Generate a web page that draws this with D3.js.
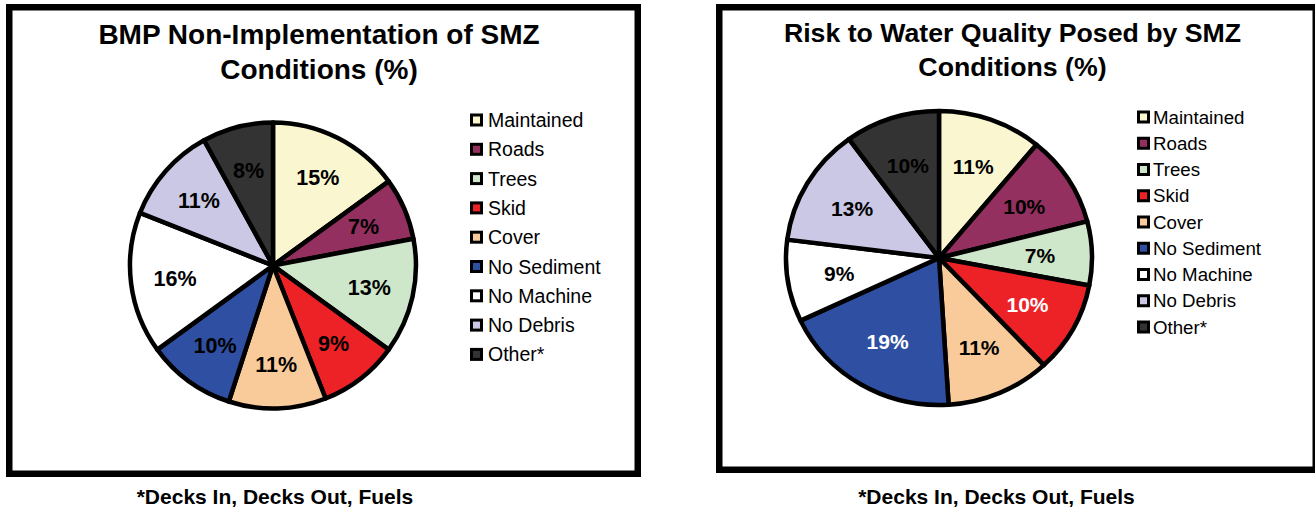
<!DOCTYPE html>
<html>
<head>
    <meta charset="utf-8">
    <title>SMZ Conditions</title>
    <style type="text/css">
        body { margin: 0; background: #fff; }
        svg text { font-family: "Liberation Sans", Arial, sans-serif; }
    </style>
</head>
<body>
<div id="chart"></div>
<script src="https://cdn.jsdelivr.net/npm/d3@7"></script>
<script type="text/javascript">
    // categories, in the order drawn (clockwise from 12 o'clock)
    var categories = ["Maintained", "Roads", "Trees", "Skid", "Cover",
        "No Sediment", "No Machine", "No Debris", "Other*"];
    var colors = ["#FAF7D0", "#93305F", "#CEE6C9", "#EC2227", "#F9CB9B",
        "#2F4FA2", "#FFFFFF", "#CAC8E4", "#333333"];

    // left chart values (%)
    var nonImplValues = [15, 7, 13, 9, 11, 10, 16, 11, 8];
    // right chart values (%)
    var riskValues = [11, 10, 7, 10, 11, 19, 9, 13, 10];

    var titlesLeft = ["BMP Non-Implementation of SMZ", "Conditions (%)"];
    var titlesRight = ["Risk to Water Quality Posed by SMZ", "Conditions (%)"];
    var footnote = "*Decks In, Decks Out, Fuels";

    var svg = d3.select('#chart')
        .append('svg')
        .attr('width', 1315)
        .attr('height', 507);

    var color = d3.scaleOrdinal().domain(categories).range(colors);

    function drawPanel(opt) {
        var g = svg.append('g');

        //外框
        g.append('rect')
            .attr('x', opt.frame[0]).attr('y', opt.frame[1])
            .attr('width', opt.frame[2]).attr('height', opt.frame[3])
            .attr('fill', '#fff')
            .attr('stroke', '#000')
            .attr('stroke-width', 6.5);

        //标题
        g.selectAll('.title')
            .data(opt.titles)
            .enter()
            .append('text')
            .attr('class', 'title')
            .attr('x', opt.titleX)
            .attr('y', function (d, i) { return opt.titleY + i * opt.titleGap; })
            .attr('text-anchor', 'middle')
            .attr('font-weight', 'bold')
            .attr('font-size', opt.titleSize)
            .text(function (d) { return d; });

        var rows = categories.map(function (c, i) {
            return {name: c, value: opt.values[i]};
        });

        // pie drawn on a unit radius, then stretched to rx/ry
        var pie = d3.pie().sort(null).value(function (d) { return d.value; });
        var arc = d3.arc().innerRadius(0).outerRadius(1);
        var labelArc = d3.arc().innerRadius(opt.labelK).outerRadius(opt.labelK);

        var pg = g.append('g')
            .attr('transform', 'translate(' + opt.cx + ',' + opt.cy + ')');

        pg.append('g')
            .attr('transform', 'scale(' + opt.rx + ',' + opt.ry + ')')
            .selectAll('path')
            .data(pie(rows))
            .enter()
            .append('path')
            .attr('d', arc)
            .attr('fill', function (d) { return color(d.data.name); })
            .attr('stroke', '#000')
            .attr('stroke-width', 4.5)
            .attr('vector-effect', 'non-scaling-stroke')
            .attr('stroke-linejoin', 'round');

        pg.selectAll('.lbl')
            .data(pie(rows))
            .enter()
            .append('text')
            .attr('class', 'lbl')
            .attr('transform', function (d) {
                var c = labelArc.centroid(d);
                return 'translate(' + (c[0] * opt.rx) + ',' + (c[1] * opt.ry) + ')';
            })
            .attr('text-anchor', 'middle')
            .attr('dy', '0.36em')
            .attr('font-weight', 'bold')
            .attr('font-size', opt.labelSize)
            .attr('fill', function (d) {
                return opt.whiteLabels.indexOf(d.data.name) >= 0 ? '#fff' : '#000';
            })
            .text(function (d) { return d.data.value + '%'; });

        //图例
        var y = d3.scalePoint().domain(categories)
            .range([opt.legendY0, opt.legendY0 + opt.legendStep * (categories.length - 1)]);

        var lg = g.append('g');
        var item = lg.selectAll('g')
            .data(categories)
            .enter()
            .append('g')
            .attr('transform', function (d) { return 'translate(' + opt.legendX + ',' + y(d) + ')'; });

        item.append('rect')
            .attr('x', 0).attr('y', -6.5)
            .attr('width', 13).attr('height', 13)
            .attr('fill', '#000');
        item.append('rect')
            .attr('x', 3).attr('y', -3.5)
            .attr('width', 7).attr('height', 7)
            .attr('fill', function (d) { return color(d); });
        item.append('text')
            .attr('x', opt.legendTextDx)
            .attr('dy', '0.36em')
            .attr('font-size', opt.legendSize)
            .text(function (d) { return d; });

        //脚注
        svg.append('text')
            .attr('x', opt.footX)
            .attr('y', 504)
            .attr('text-anchor', 'middle')
            .attr('font-weight', 'bold')
            .attr('font-size', 21)
            .text(footnote);
    }

    drawPanel({
        frame: [9.25, 7.25, 628.5, 466.5],
        titles: titlesLeft, titleX: 319, titleY: 44, titleGap: 35, titleSize: 28,
        values: nonImplValues,
        cx: 273, cy: 265.5, rx: 143, ry: 143, labelK: 0.69, labelSize: 21.5,
        whiteLabels: [],
        legendX: 470, legendY0: 120, legendStep: 29.3, legendTextDx: 18, legendSize: 19.5,
        footX: 275
    });

    drawPanel({
        frame: [719.25, 7.25, 596.5, 462.5],
        titles: titlesRight, titleX: 1012.5, titleY: 42, titleGap: 34, titleSize: 26.7,
        values: riskValues,
        cx: 939, cy: 258, rx: 153, ry: 147, labelK: 0.66, labelSize: 21,
        whiteLabels: ["Skid", "No Sediment"],
        legendX: 1137, legendY0: 117, legendStep: 26.25, legendTextDx: 16, legendSize: 18.7,
        footX: 996.5
    });
</script>
</body>
</html>
